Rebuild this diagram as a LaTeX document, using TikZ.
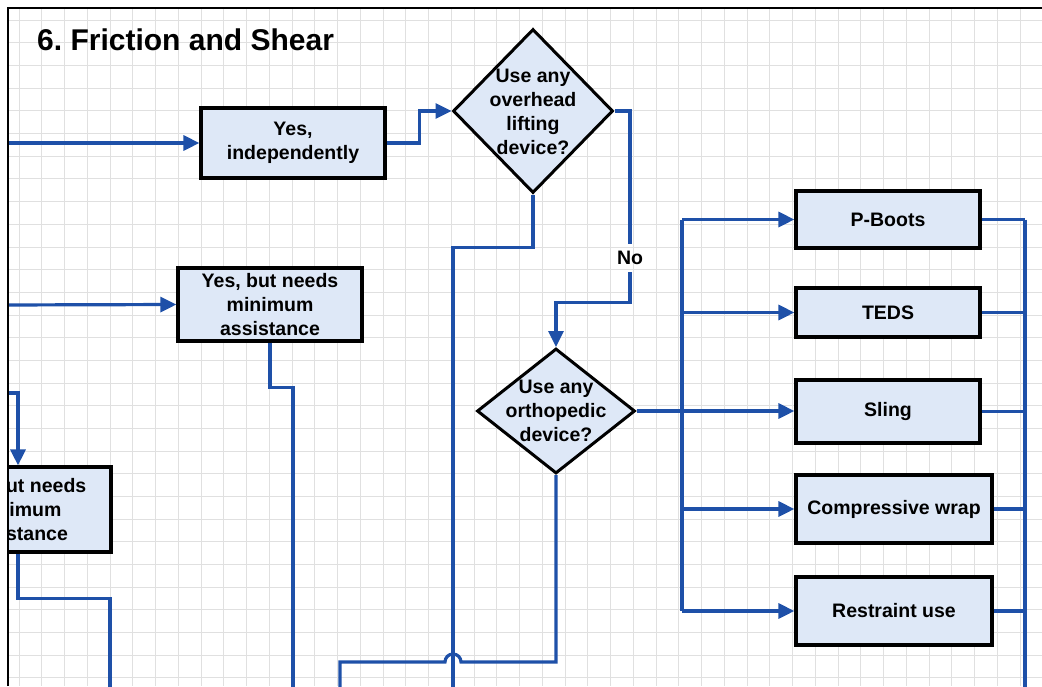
\documentclass[tikz,border=0pt]{standalone}
\usepackage{fontspec}
\setmainfont{Liberation Sans}
\usetikzlibrary{shapes.geometric,arrows.meta}
\definecolor{flowblue}{RGB}{30,80,168}
\definecolor{boxfill}{RGB}{222,232,247}
\definecolor{gridgray}{RGB}{224,224,224}
\tikzstyle{box}=[draw=black, line width=3.2pt, fill=boxfill, inner sep=0pt, align=center, font=\fontsize{19.5}{24}\selectfont\bfseries]
\tikzstyle{decision}=[diamond, draw=black, line width=3pt, fill=boxfill, inner sep=0pt]
\tikzstyle{question}=[inner sep=0pt, align=center, font=\fontsize{19.5}{24}\selectfont\bfseries]
\tikzstyle{flow}=[draw=flowblue, line width=3.2pt]
\tikzstyle{arrowflow}=[flow, -{Triangle[length=16pt,width=15pt]}]

\begin{document}
\begin{tikzpicture}[x=1pt, y=-1pt]
\useasboundingbox (0,0) rectangle (1042,686);
\fill[white] (0,0) rectangle (1042,686);
\begin{scope}
\clip (8,8) rectangle (1042,686);
% Grid
    \foreach \i in {0,...,45}
        \draw[gridgray, line width=1pt] ({19+22.75*\i},8) -- ({19+22.75*\i},686);
    \foreach \j in {0,...,29}
        \draw[gridgray, line width=1pt] (8,{20.3+22.67*\j}) -- (1042,{20.3+22.67*\j});
% Title
    \node[anchor=west, inner sep=0pt, font=\fontsize{30}{36}\selectfont\bfseries] (title) at (37,40) {6.\ Friction and Shear};
% Boxes
    \node[box, minimum width=184pt, minimum height=70pt] (indep) at (293,143) {Yes,\\independently};
    \node[box, minimum width=184pt, minimum height=73pt] (minassist) at (270,304.5) {Yes, but needs\\minimum\\assistance};
    \node[box, minimum width=186pt, minimum height=85pt] (minassistb) at (18,509.5) {Yes, but needs\\minimum\\assistance};
    \node[box, minimum width=184pt, minimum height=57pt] (pboots) at (888,219.5) {P-Boots};
    \node[box, minimum width=184pt, minimum height=49pt] (teds) at (888,312.5) {TEDS};
    \node[box, minimum width=184pt, minimum height=63pt] (sling) at (888,411.5) {Sling};
    \node[box, minimum width=196pt, minimum height=68pt] (wrap) at (894,509) {Compressive wrap};
    \node[box, minimum width=196pt, minimum height=68pt] (restraint) at (894,611) {Restraint use};
% Decisions
    \node[decision, minimum width=160pt, minimum height=164pt] (lift) at (533,111) {};
    \node[question] (lifttext) at (533,112) {Use any\\overhead\\lifting\\device?};
    \node[decision, minimum width=158pt, minimum height=125pt] (ortho) at (556,411) {};
    \node[question] (orthotext) at (556,411) {Use any\\orthopedic\\device?};
    \node[question, minimum height=28pt] (no) at (630,258) {No};
% Free ends
    \coordinate (entrya) at (0,143);
    \coordinate (entryb) at (0,305);
    \coordinate (entryc) at (0,393);
    \coordinate (outa) at (110,700);
    \coordinate (outb) at (293,700);
    \coordinate (outc) at (340,700);
    \coordinate (outd) at (453,700);
    \coordinate (busl) at (682,0);
    \coordinate (busr) at (1025,0);
% Connectors on the left
    \draw[arrowflow] (entrya) -- (indep.west);
    \draw[arrowflow] (indep.east) -- ++(33,0) |- (lift.west);
    \draw[arrowflow] (entryb) -- (minassist.west);
    \draw[flow] (minassist.south) -- ++(0,45) -| (outb);
    \draw[arrowflow] (entryc) -| (minassistb.north);
    \draw[flow] (minassistb.south) -- ++(0,45) -| (outa);
% Connectors from the decisions
    \draw[flow] (lift.east) -| (no.north);
    \draw[arrowflow] (no.south) -- ++(0,30) -| (ortho.north);
    \draw[flow] (lift.south) -- ++(0,53) -| (outd);
    \draw[flow] (ortho.south) -- ++(0,187) -- ++(-95,0)
        arc[start angle=0, end angle=-180, radius=8] -| (outc);
    \draw[arrowflow] (ortho.east) -- (ortho.east -| sling.west);
% Bus to the devices
    \draw[flow] (pboots.west -| busl) -- (restraint.west -| busl);
    \foreach \dev in {pboots,teds,wrap,restraint}
        \draw[arrowflow] (\dev.west -| busl) -- (\dev.west);
    \foreach \dev in {pboots,teds,sling,wrap,restraint}
        \draw[flow] (\dev.east) -- (\dev.east -| busr);
    \draw[flow] (pboots.east -| busr) -- (busr |- outa);
\end{scope}
% Frame
    \draw[black, line width=2pt] (8,686) -- (8,8) -- (1042,8);
\end{tikzpicture}
\end{document}
